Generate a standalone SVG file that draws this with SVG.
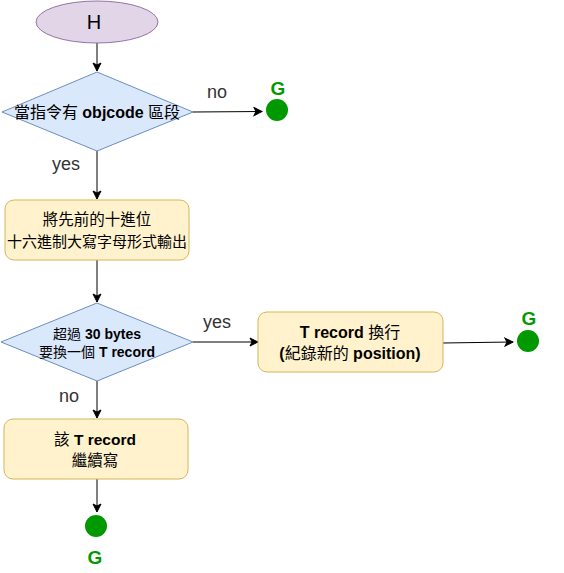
<svg xmlns="http://www.w3.org/2000/svg" width="564" height="573" viewBox="0 0 564 573">
<defs>
<style>
.t{font-family:"Liberation Sans","Noto Sans CJK TC",sans-serif;fill:#000;text-anchor:middle;dominant-baseline:central}
.b{font-weight:bold}
.lbl{font-family:"Liberation Sans",sans-serif;font-size:18px;fill:#333;text-anchor:middle;dominant-baseline:central}
.g{font-family:"Liberation Sans",sans-serif;font-size:19px;font-weight:bold;fill:#009900;text-anchor:middle;dominant-baseline:central}
.dia{fill:#dae8fc;stroke:#6c8ebf;stroke-width:1}
.box{fill:#fff2cc;stroke:#d6b656;stroke-width:1}
.dot{fill:#009900}
.edge{stroke:#000;stroke-width:1;fill:none;marker-end:url(#arr)}
</style>
<marker id="arr" markerWidth="10" markerHeight="10" refX="9" refY="5" orient="auto" markerUnits="userSpaceOnUse">
<path d="M1,1 L9,5 L1,9 L3,5 Z" fill="#000" stroke="#000" stroke-width="1"/>
</marker>
</defs>
<g id="connectors">
<line class="edge" x1="97" y1="43" x2="97" y2="71"/>
<line class="edge" x1="193" y1="112" x2="262" y2="111.5"/>
<line class="edge" x1="97" y1="151" x2="97" y2="199"/>
<line class="edge" x1="97" y1="260" x2="97" y2="302"/>
<line class="edge" x1="193" y1="342" x2="258" y2="342"/>
<line class="edge" x1="443" y1="343" x2="513" y2="342"/>
<line class="edge" x1="97" y1="381" x2="97" y2="418"/>
<line class="edge" x1="97" y1="479" x2="97" y2="512"/>
</g>
<g id="H">
<ellipse cx="97" cy="22" rx="61" ry="21" fill="#e1d5e7" stroke="#9673a6"/>
<text class="t" x="94" y="22" font-size="20" fill="#333">H</text>
</g>
<g id="d1">
<polygon class="dia" points="2,112 97,72 193,112 97,151"/>
<text class="t" x="97" y="112" font-size="16">當指令有 <tspan class="b">objcode</tspan> 區段</text>
</g>
<g id="g1">
<circle class="dot" cx="277" cy="110" r="11"/>
<text class="g" x="278" y="88">G</text>
</g>
<g id="b1">
<rect class="box" x="5" y="200" width="184" height="60" rx="9"/>
<text class="t" x="97" y="219" font-size="15.5">將先前的十進位</text>
<text class="t" x="97" y="241" font-size="15">十六進制大寫字母形式輸出</text>
</g>
<g id="d2">
<polygon class="dia" points="1,342 97,303 193,342 97,381"/>
<text class="t" x="97" y="334" font-size="14">超過 <tspan class="b">30 bytes</tspan></text>
<text class="t" x="97" y="352" font-size="14">要換一個 <tspan class="b">T record</tspan></text>
</g>
<g id="b2">
<rect class="box" x="258" y="312" width="185" height="60" rx="9"/>
<text class="t" x="350" y="332" font-size="16"><tspan class="b">T record</tspan> 換行</text>
<text class="t" x="350" y="353" font-size="16"><tspan class="b">(</tspan>紀錄新的 <tspan class="b">position)</tspan></text>
</g>
<g id="g2">
<circle class="dot" cx="528" cy="341" r="11"/>
<text class="g" x="529" y="318">G</text>
</g>
<g id="b3">
<rect class="box" x="4" y="419" width="184" height="60" rx="9"/>
<text class="t" x="95" y="439" font-size="15.5">該 <tspan class="b">T record</tspan></text>
<text class="t" x="95" y="460" font-size="15.5">繼續寫</text>
</g>
<g id="g3">
<circle class="dot" cx="96" cy="526" r="11"/>
<text class="g" x="95" y="557">G</text>
</g>
<g id="labels">
<text class="lbl" x="217" y="92">no</text>
<text class="lbl" x="66" y="164">yes</text>
<text class="lbl" x="217" y="322">yes</text>
<text class="lbl" x="69" y="396">no</text>
</g>
</svg>
